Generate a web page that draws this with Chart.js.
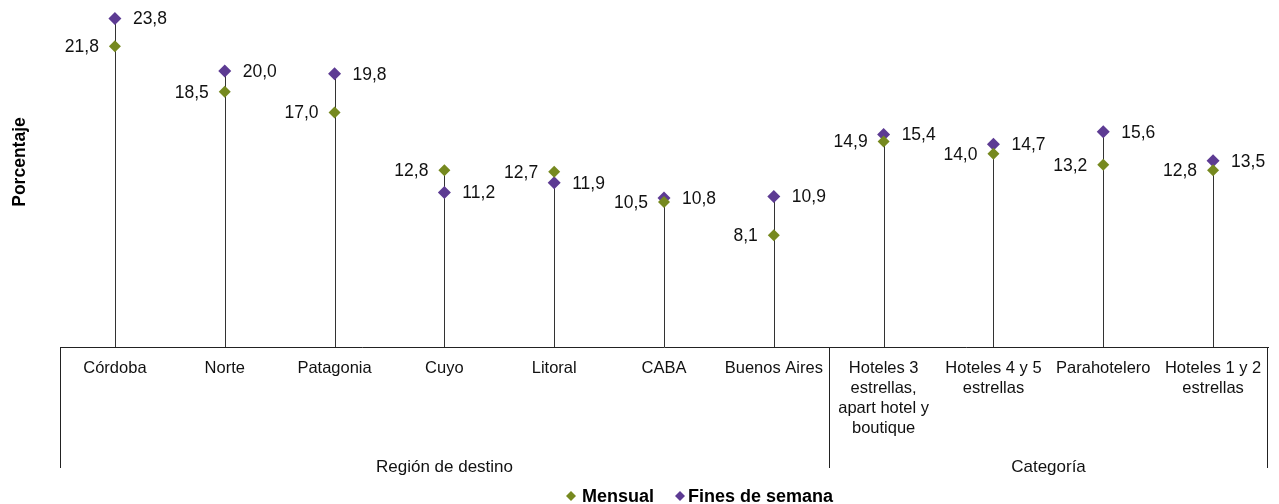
<!DOCTYPE html>
<html>
<head>
<meta charset="utf-8">
<script src="https://cdn.jsdelivr.net/npm/chart.js@4.4.0/dist/chart.umd.min.js"></script>
<style>
  html, body { margin: 0; padding: 0; background: #fff; }
</style>
</head>
<body>
<canvas id="chart" width="1279" height="504"></canvas>
<script>
const categorias = [
  'Córdoba', 'Norte', 'Patagonia', 'Cuyo', 'Litoral', 'CABA', 'Buenos Aires',
  ['Hoteles 3', 'estrellas,', 'apart hotel y', 'boutique'],
  ['Hoteles 4 y 5', 'estrellas'],
  'Parahotelero',
  ['Hoteles 1 y 2', 'estrellas']
];
const grupos = ['Región de destino', 'Categoría'];
const grupoTamano = [7, 4];
const mensual = [21.8, 18.5, 17.0, 12.8, 12.7, 10.5, 8.1, 14.9, 14.0, 13.2, 12.8];
const finesDeSemana = [23.8, 20.0, 19.8, 11.2, 11.9, 10.8, 10.9, 15.4, 14.7, 15.6, 13.5];

const verde = '#76891f';
const violeta = '#5d3b93';
const fuente = '"Liberation Sans", Arial, Helvetica, sans-serif';

function formato(v) {
  return v.toFixed(1).replace('.', ',');
}

// lineas verticales desde el eje hasta el punto mas alto
const lineasVerticales = {
  id: 'lineasVerticales',
  beforeDatasetsDraw(chart) {
    const { ctx, scales: { x, y } } = chart;
    ctx.save();
    ctx.strokeStyle = '#333';
    ctx.lineWidth = 1;
    mensual.forEach((v, i) => {
      const alto = Math.max(v, finesDeSemana[i]);
      const px = Math.round(x.getPixelForValue(i)) + 0.5;
      ctx.beginPath();
      ctx.moveTo(px, y.getPixelForValue(0));
      ctx.lineTo(px, y.getPixelForValue(alto));
      ctx.stroke();
    });
    ctx.restore();
  }
};

// etiquetas de valores
const etiquetas = {
  id: 'etiquetas',
  afterDatasetsDraw(chart) {
    const ctx = chart.ctx;
    ctx.save();
    ctx.font = '17.5px ' + fuente;
    ctx.fillStyle = '#111';
    ctx.textBaseline = 'middle';
    chart.getDatasetMeta(0).data.forEach((p, i) => {
      ctx.textAlign = 'right';
      ctx.fillText(formato(mensual[i]), p.x - 16, p.y + 1);
    });
    chart.getDatasetMeta(1).data.forEach((p, i) => {
      ctx.textAlign = 'left';
      ctx.fillText(formato(finesDeSemana[i]), p.x + 18, p.y + 1);
    });
    ctx.restore();
  }
};

// grupos del eje x, titulo del eje y y leyenda
const extras = {
  id: 'extras',
  afterDraw(chart) {
    const { ctx, chartArea, scales: { x } } = chart;
    const mitad = (x.getPixelForValue(1) - x.getPixelForValue(0)) / 2;
    const base = chartArea.bottom;
    ctx.save();
    ctx.strokeStyle = '#222';
    ctx.lineWidth = 1;
    ctx.fillStyle = '#111';
    ctx.font = '17px ' + fuente;
    ctx.textAlign = 'center';
    ctx.textBaseline = 'alphabetic';
    let inicio = 0;
    grupos.forEach((g, k) => {
      const fin = inicio + grupoTamano[k] - 1;
      const izq = Math.round(x.getPixelForValue(inicio) - mitad) + 0.5;
      const der = Math.round(x.getPixelForValue(fin) + mitad) - 0.5;
      ctx.beginPath();
      ctx.moveTo(izq, base);
      ctx.lineTo(izq, 468);
      if (k === grupos.length - 1) {
        ctx.moveTo(der, base);
        ctx.lineTo(der, 468);
      }
      ctx.stroke();
      ctx.fillText(g, (izq + der) / 2, 472);
      inicio = fin + 1;
    });

    // titulo eje y
    ctx.save();
    ctx.translate(25, 162);
    ctx.rotate(-Math.PI / 2);
    ctx.font = 'bold 17.5px ' + fuente;
    ctx.fillStyle = '#000';
    ctx.textAlign = 'center';
    ctx.fillText('Porcentaje', 0, 0);
    ctx.restore();

    // leyenda
    const items = [
      { texto: 'Mensual', color: verde, x: 571, tx: 582 },
      { texto: 'Fines de semana', color: violeta, x: 680, tx: 688 }
    ];
    ctx.font = 'bold 18px ' + fuente;
    ctx.textAlign = 'left';
    items.forEach((it) => {
      ctx.fillStyle = it.color;
      Chart.helpers.drawPoint(ctx, { pointStyle: 'rectRot', radius: 5, rotation: 0, borderWidth: 0 }, it.x, 496);
      ctx.fillStyle = '#000';
      ctx.fillText(it.texto, it.tx, 502);
    });
    ctx.restore();
  }
};

const data = {
  labels: categorias,
  datasets: [
    {
      label: 'Mensual',
      data: mensual,
      showLine: false,
      pointStyle: 'rectRot',
      pointRadius: 6,
      pointHoverRadius: 6,
      pointBorderWidth: 0,
      backgroundColor: verde,
      borderColor: verde
    },
    {
      label: 'Fines de semana',
      data: finesDeSemana,
      showLine: false,
      pointStyle: 'rectRot',
      pointRadius: 6.5,
      pointHoverRadius: 6.5,
      pointBorderWidth: 0,
      backgroundColor: violeta,
      borderColor: violeta
    }
  ]
};

const config = {
  type: 'line',
  data,
  plugins: [lineasVerticales, etiquetas, extras],
  options: {
    responsive: false,
    animation: false,
    layout: { autoPadding: false, padding: { top: 2, right: 11, left: 0, bottom: 0 } },
    plugins: {
      legend: { display: false },
      tooltip: { enabled: false }
    },
    scales: {
      x: {
        offset: true,
        grid: { display: false, drawTicks: false },
        border: { display: true, color: '#222', width: 1 },
        ticks: {
          autoSkip: false,
          maxRotation: 0,
          minRotation: 0,
          padding: 12,
          color: '#111',
          font: { family: fuente, size: 16.5, lineHeight: 1.2 }
        },
        afterFit: (s) => { s.height = 157; }
      },
      y: {
        min: 0,
        max: 25,
        grid: { display: false, drawTicks: false },
        border: { display: false },
        ticks: { display: false },
        afterFit: (s) => { s.width = 60; }
      }
    }
  }
};

const canvas = document.getElementById('chart');
new Chart(canvas, config);
</script>
</body>
</html>
